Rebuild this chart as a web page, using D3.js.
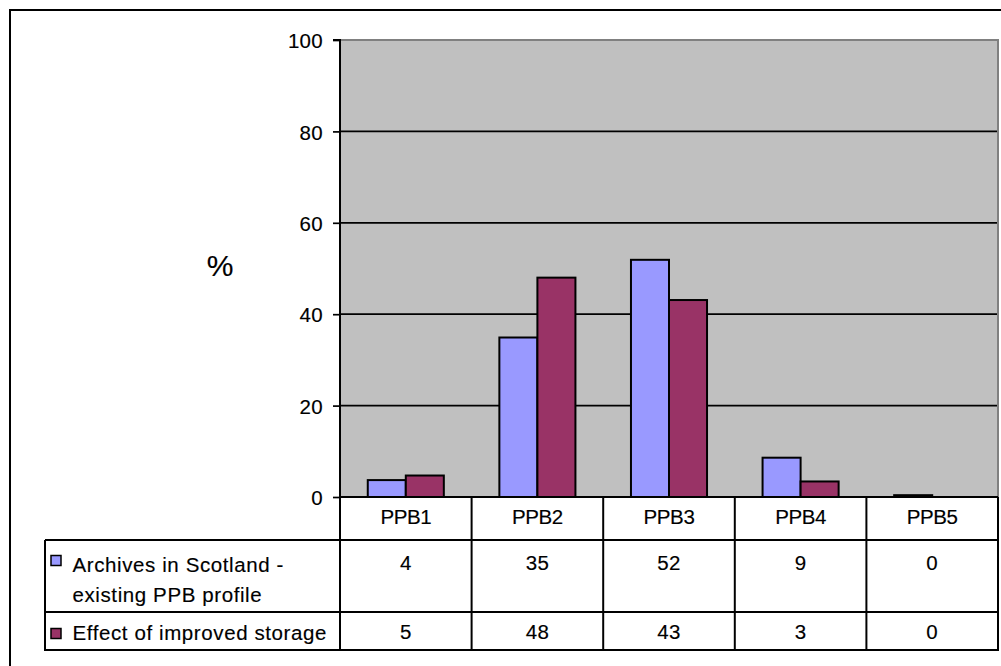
<!DOCTYPE html>
<html><head><meta charset="utf-8">
<script src="https://cdn.jsdelivr.net/npm/d3@7"></script>
<style>
html,body{margin:0;padding:0;background:#fff;}
svg{display:block;}
svg text{font-family:"Liberation Sans",Arial,sans-serif;fill:#000;stroke:#000;stroke-width:0.15px;}
</style></head>
<body>
<script>
const categories = ["PPB1","PPB2","PPB3","PPB4","PPB5"];
const seriesNames = ["Archives in Scotland - existing PPB profile","Effect of improved storage"];
const legendLines = [["Archives in Scotland -","existing PPB profile"],["Effect of improved storage"]];
const archivesValues = [3.7, 34.9, 51.9, 8.6, 0.4];
const improvedValues = [4.7, 48.0, 43.1, 3.4, 0];
const yTicks = [0,20,40,60,80,100];
const colors = ["#9999FF","#993366"];

const W = 1001, H = 666;
const FS = 20.5;
const svg = d3.select("body").append("svg").attr("width", W).attr("height", H);

const plot = {left:340, right:998, top:40, bottom:497};
const table = {left:45, headBottom:540, row1Bottom:612, row2Bottom:650};

// outer border (top & left visible)
svg.append("path").attr("d", `M10,${H+5}V10H${W+5}`).attr("fill","none").attr("stroke","#000").attr("stroke-width",2);

const x0 = d3.scaleBand().domain(categories).range([plot.left, plot.right]).paddingInner(0).paddingOuter(0);
const x1 = d3.scaleBand().domain([0,1]).range([0, x0.bandwidth()*0.578]).padding(0);
const y = d3.scaleLinear().domain([0,100]).range([plot.bottom, plot.top]);

// plot background
svg.append("rect").attr("x",plot.left).attr("y",plot.top).attr("width",plot.right-plot.left).attr("height",plot.bottom-plot.top)
  .attr("fill","#C0C0C0").attr("stroke","#808080").attr("stroke-width",2);

// gridlines
svg.append("g").selectAll("line").data(yTicks.filter(d=>d>0 && d<100)).join("line")
  .attr("x1",plot.left).attr("x2",plot.right-1).attr("y1",d=>y(d)).attr("y2",d=>y(d))
  .attr("stroke","#000").attr("stroke-width",1.7);

// bars
const series = [archivesValues, improvedValues];
const offset = x0.bandwidth()*0.211;
series.forEach((vals,si)=>{
  svg.append("g").selectAll("rect").data(categories).join("rect")
    .attr("x",(c)=>x0(c)+offset+x1(si))
    .attr("width",x1.bandwidth())
    .attr("y",(c,i)=>y(vals[i]))
    .attr("height",(c,i)=>y(0)-y(vals[i]))
    .attr("fill",colors[si]).attr("stroke","#000").attr("stroke-width",2);
});

// y axis
const yAxis = d3.axisLeft(y).tickValues(yTicks).tickSize(7).tickPadding(10).tickFormat(d3.format("d"));
const ga = svg.append("g").attr("transform",`translate(${plot.left},0)`).call(yAxis);
ga.attr("font-family",null).attr("font-size",null);
ga.select(".domain").attr("stroke","#000").attr("stroke-width",2).attr("d",`M-7,${plot.top}H0V${plot.bottom}`);
ga.selectAll(".tick line").attr("stroke","#000").attr("stroke-width",1.7);
ga.selectAll(".tick text").attr("font-size",FS).attr("fill","#000").attr("dy","0.38em")
  .style("letter-spacing","0.3px");

// % label
svg.append("text").attr("x",220).attr("y",276).attr("text-anchor","middle").attr("font-size",30).text("%");

// data table
const tg = svg.append("g");
const lineAttr = s => s.attr("stroke","#000").attr("stroke-width",2);
lineAttr(tg.append("line").attr("x1",plot.left).attr("x2",plot.right).attr("y1",plot.bottom).attr("y2",plot.bottom));
[table.headBottom, table.row1Bottom, table.row2Bottom].forEach(yy=>{
  lineAttr(tg.append("line").attr("x1",table.left).attr("x2",plot.right).attr("y1",yy).attr("y2",yy));
});
lineAttr(tg.append("line").attr("x1",table.left).attr("x2",table.left).attr("y1",table.headBottom).attr("y2",table.row2Bottom+1));
categories.forEach(c=>{
  lineAttr(tg.append("line").attr("x1",x0(c)).attr("x2",x0(c)).attr("y1",plot.bottom).attr("y2",table.row2Bottom+1));
});
lineAttr(tg.append("line").attr("x1",plot.right).attr("x2",plot.right).attr("y1",plot.bottom).attr("y2",table.row2Bottom+1));

// header labels
tg.selectAll("text.hdr").data(categories).join("text").attr("class","hdr")
  .attr("x",c=>x0(c)+x0.bandwidth()/2).attr("y",523.5).attr("text-anchor","middle").attr("font-size",FS)
  .style("letter-spacing","-0.4px").text(c=>c);

// values
const fmt = d3.format(".0f");
const rowBaselines = [570, 639];
series.forEach((vals,si)=>{
  tg.selectAll(`text.v${si}`).data(categories).join("text").attr("class",`v${si}`)
    .attr("x",c=>x0(c)+x0.bandwidth()/2).attr("y",rowBaselines[si]).attr("text-anchor","middle")
    .attr("font-size",FS).style("letter-spacing","0.3px").text((c,i)=>fmt(vals[i]));
});

// legend keys
const keyY = [555.5, 628.5];
const lineBaselines = [[571.5,601.5],[640]];
seriesNames.forEach((name,si)=>{
  tg.append("rect").attr("x",51).attr("y",keyY[si]).attr("width",10).attr("height",10)
    .attr("fill",colors[si]).attr("stroke","#000").attr("stroke-width",1.5);
  legendLines[si].forEach((ln,li)=>{
    tg.append("text").attr("x",72.5).attr("y",lineBaselines[si][li]).attr("font-size",FS)
      .style("letter-spacing","0.6px").text(ln);
  });
});
</script>
</body></html>
